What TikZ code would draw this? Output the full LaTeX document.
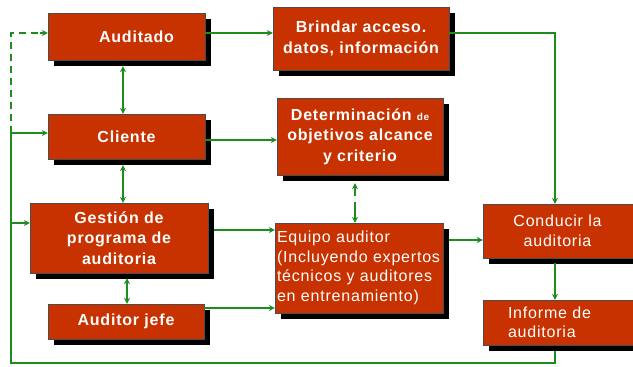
\documentclass[tikz,border=0pt]{standalone}
\usepackage{fontspec}
\setmainfont{Liberation Sans}
\newfontfamily\boxfont[LetterSpace=5]{Liberation Sans}
\usetikzlibrary{arrows.meta,shadows,calc}
\definecolor{boxred}{HTML}{C83200}
\definecolor{lgreen}{HTML}{1E8C1E}
\begin{document}
\begin{tikzpicture}[x=1pt,y=-1pt,
  box/.style={fill=boxred, draw=black!70, line width=0.4pt, text=white, align=center,
    inner sep=0pt, font=\boxfont\fontsize{16}{20.5}\selectfont\bfseries,
    drop shadow={shadow xshift=6pt, shadow yshift=-6pt, fill=black, opacity=1}},
  plainbox/.style={box, font=\boxfont\fontsize{16}{19.5}\selectfont},
  conn/.style={draw=lgreen, line width=1.1pt},
  arr/.style={conn, -{Stealth[length=6pt,width=6pt]}},
  darr/.style={conn, {Stealth[length=6pt,width=6pt]}-{Stealth[length=6pt,width=6pt]}}
]
\useasboundingbox (0,0) rectangle (633,367);
\fill[white] (0,0) rectangle (633,367);

\node[box, minimum width=157pt, minimum height=47pt] (aud) at (126.5,36.5) {\hspace*{20pt}Auditado};
\node[box, minimum width=176pt, minimum height=63pt] (bri) at (361,38.5) {Brindar acceso.\\datos, información};
\node[box, minimum width=157pt, minimum height=45pt] (cli) at (126.5,136.5) {Cliente};
\node[box, minimum width=166pt, minimum height=77pt] (det) at (360,136.5)
  {Determinación {\fontsize{10}{10}\selectfont de}\\objetivos alcance\\y criterio};
\node[box, minimum width=178pt, minimum height=70pt] (ges) at (119,238) {Gestión de\\programa de\\auditoria};
\node[box, minimum width=156pt, minimum height=35pt] (jef) at (126,321.5) {Auditor jefe};
\node[plainbox, align=left, text width=164pt, inner xsep=2pt, minimum height=90pt] (equ) at (359,268)
  {Equipo auditor\\(Incluyendo expertos\\técnicos y auditores\\en entrenamiento)};
\node[plainbox, minimum width=157pt, minimum height=54pt] (con) at (561.5,231) {\hspace*{-8pt}Conducir la\\\hspace*{-8pt}auditoria};
\node[plainbox, align=left, text width=107pt, inner xsep=25pt, minimum height=45pt] (inf) at (561.5,322.5)
  {Informe de\\auditoria};

% coordinates of the left feedback line
\coordinate (Ltop) at (11,33);
\coordinate (Lcli) at (11,133);
\coordinate (Lges) at (11,223);
\coordinate (Lbot) at (11,363);
\coordinate (Rbot) at (555,363);

% connectors
\draw[arr] (aud.east |- 0,33) -- (bri.west |- 0,33);
\draw[arr] (bri.east |- 0,33) -| (con.north -| 555,0);
\draw[arr] (cli.east |- 0,140) -- (det.west |- 0,140);
\draw[darr] (aud.south -| 123,0) ++(0,6) -- (cli.north -| 123,0);
\draw[darr] (cli.south -| 123,0) ++(0,6) -- (ges.north -| 123,0);
\draw[darr] (ges.south -| 127,0) ++(0,5) -- (jef.north -| 127,0);
\draw[arr] (ges.east |- 0,230) ++(6,0) -- (equ.west |- 0,230);
\draw[arr] (jef.east |- 0,308) -- (equ.west |- 0,308);
\draw[arr] (equ.east |- 0,240) ++(6,0) -- (con.west |- 0,240);
\draw[arr] (con.south -| 555,0) ++(0,5) -- (inf.north -| 555,0);
\coordinate (mid) at ($(det.south -| 355,0)!0.5!(equ.north -| 355,0)$);
\draw[arr] (mid) ++(0,-3) -- ($(det.south -| 355,0)+(0,8)$);
\draw[arr] (mid) ++(0,3) -- (equ.north -| 355,0);

% feedback
\draw[conn] (inf.south -| 555,0) ++(0,6) -- (Rbot) -- (Lbot) -- (Lcli);
\draw[conn, dashed, dash pattern=on 7pt off 5pt] (Lcli) -- (Ltop) -- ($(aud.west |- Ltop)+(-8,0)$);
\draw[arr] ($(aud.west |- Ltop)+(-8,0)$) -- (aud.west |- Ltop);
\draw[arr] (Lcli) -- (cli.west |- Lcli);
\draw[arr] (Lges) -- (ges.west |- Lges);
\end{tikzpicture}
\end{document}
